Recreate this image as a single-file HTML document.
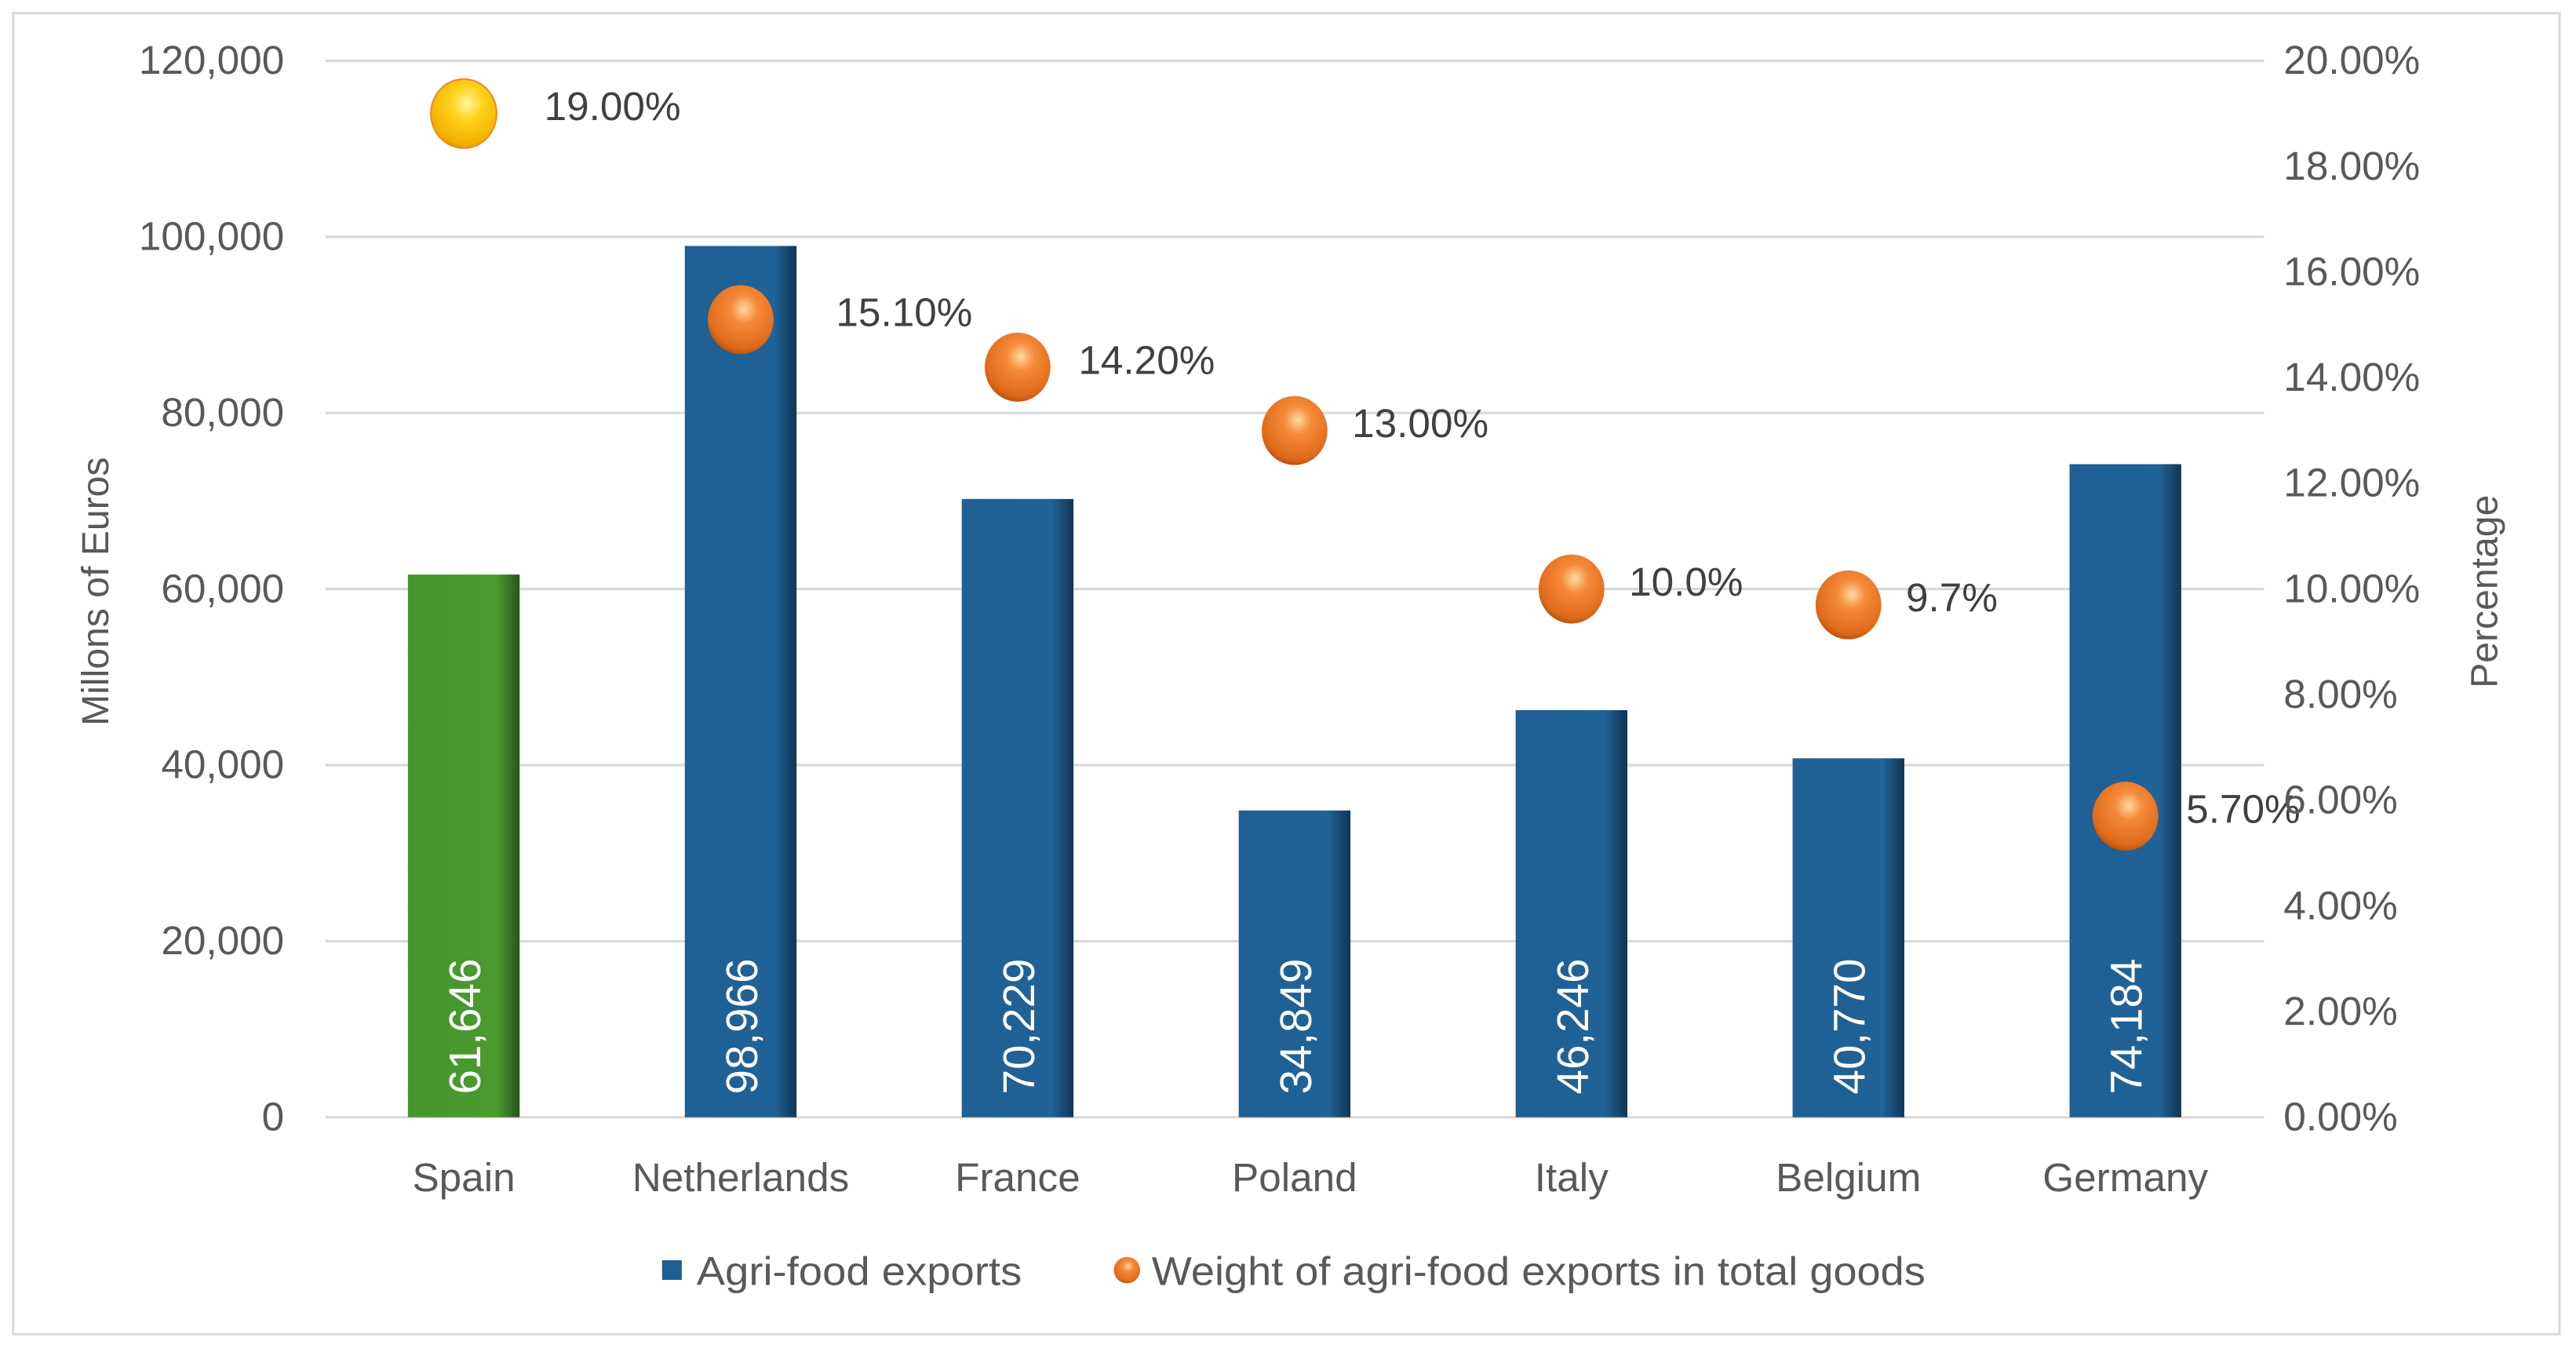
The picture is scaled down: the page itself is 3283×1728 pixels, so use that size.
<!DOCTYPE html>
<html><head><meta charset="utf-8"><style>
html,body{margin:0;padding:0;background:#fff}
svg{display:block;font-family:"Liberation Sans",sans-serif}
</style></head><body>
<svg id="chart" width="3283" height="1728" viewBox="0 0 1568 825.3" preserveAspectRatio="none" xmlns="http://www.w3.org/2000/svg">
<defs>
<linearGradient id="gBlue" x1="0" x2="1" y1="0" y2="0"><stop offset="0" stop-color="#1f5f94"/><stop offset="0.8" stop-color="#216396"/><stop offset="1" stop-color="#0f3556"/></linearGradient>
<linearGradient id="gGreen" x1="0" x2="1" y1="0" y2="0"><stop offset="0" stop-color="#46952c"/><stop offset="0.8" stop-color="#4a9a2e"/><stop offset="1" stop-color="#24561a"/></linearGradient>
<radialGradient id="gOrange" cx="0.55" cy="0.35" r="0.7"><stop offset="0" stop-color="#ffd9a0"/><stop offset="0.3" stop-color="#f58a3a"/><stop offset="0.8" stop-color="#e06a1a"/><stop offset="1" stop-color="#a9480c"/></radialGradient>
<radialGradient id="gYellow" cx="0.55" cy="0.35" r="0.7"><stop offset="0" stop-color="#fff6a0"/><stop offset="0.35" stop-color="#ffd21a"/><stop offset="0.85" stop-color="#f2b000"/><stop offset="1" stop-color="#e07a10"/></radialGradient>
</defs>
<rect x="8" y="8" width="1550" height="804" fill="#fff" stroke="#d9d9d9" stroke-width="1.5"/>
<g id="grid"></g><g id="bars"></g><g id="pts"></g><g id="axes"></g>
<text transform="translate(66,360) rotate(-90)" text-anchor="middle" font-size="23" fill="#595959">Millons of Euros</text>
<text transform="translate(1520,360) rotate(-90)" text-anchor="middle" font-size="23" fill="#595959">Percentage</text>
<g>
<rect x="403" y="767" width="12" height="12" fill="#1f5f94"/>
<text x="424" y="782" font-size="24.5" fill="#595959" textLength="198" lengthAdjust="spacingAndGlyphs">Agri-food exports</text>
<circle cx="686" cy="773" r="8" fill="url(#gOrange)"/>
<text x="701" y="782" font-size="24.5" fill="#595959" textLength="471" lengthAdjust="spacingAndGlyphs">Weight of agri-food exports in total goods</text>
</g>
</svg>
<script>
const categories=["Spain","Netherlands","France","Poland","Italy","Belgium","Germany"];
const exportsVals=[61646,98966,70229,34849,46246,40770,74184];
const exportLabels=["61,646","98,966","70,229","34,849","46,246","40,770","74,184"];
const weightVals=[19.0,15.1,14.2,13.0,10.0,9.7,5.7];
const weightLabels=["19.00%","15.10%","14.20%","13.00%","10.0%","9.7%","5.70%"];
const leftTicks=[0,20000,40000,60000,80000,100000,120000];
const leftTickLabels=["0","20,000","40,000","60,000","80,000","100,000","120,000"];
const rightTicks=[0,2,4,6,8,10,12,14,16,18,20];
const rightTickLabels=["0.00%","2.00%","4.00%","6.00%","8.00%","10.00%","12.00%","14.00%","16.00%","18.00%","20.00%"];
const NS="http://www.w3.org/2000/svg";
const X0=198,X1=1378,Y0=680,Y1=37;
const labelDx=[49,58,37,35,35,35,37];
const yL=v=>Y0-(v/120000)*(Y0-Y1);
const yR=v=>Y0-(v/20)*(Y0-Y1);
const band=(X1-X0)/categories.length;
const xC=i=>X0+band*(i+0.5);
function mk(t,a,p){const e=document.createElementNS(NS,t);for(const k in a)e.setAttribute(k,a[k]);p.appendChild(e);return e;}
const grid=document.getElementById('grid'),bars=document.getElementById('bars'),pts=document.getElementById('pts'),axes=document.getElementById('axes');
leftTicks.forEach((v,i)=>{
 const l=mk('line',{x1:X0,x2:X1,y1:yL(v),y2:yL(v),stroke:'#d9d9d9','stroke-width':1.5},grid);
 
 
 const t=mk('text',{x:173,y:yL(v)+8,'text-anchor':'end','font-size':24.5,fill:'#595959'},axes);
 t.textContent=leftTickLabels[i];
 
 
});
rightTicks.forEach((v,i)=>{
 const t=mk('text',{x:1390,y:yR(v)+8,'font-size':24.5,fill:'#595959'},axes);
 t.textContent=rightTickLabels[i];
 
 
});
const bw=68;
categories.forEach((c,i)=>{
 const y=yL(exportsVals[i]);
 const r=mk('rect',{x:xC(i)-bw/2,y:y,width:bw,height:Y0-y,fill:i===0?'url(#gGreen)':'url(#gBlue)'},bars);
 
 
 const vt=mk('text',{transform:`translate(${xC(i)+10},${Y0-14}) rotate(-90)`,'font-size':27,fill:'#fff'},bars);
 vt.textContent=exportLabels[i];
 
 
 const ct=mk('text',{x:xC(i),y:725,'text-anchor':'middle','font-size':24.5,fill:'#595959'},axes);
 ct.textContent=c;
 
 
 const py=yR(weightVals[i]);
 const m=mk('ellipse',{cx:xC(i),cy:py,rx:20,ry:21,fill:i===0?'url(#gYellow)':'url(#gOrange)',stroke:i===0?'#f08a20':'none','stroke-width':1},pts);
 
 
 const pt=mk('text',{x:xC(i)+labelDx[i],y:py+4,'font-size':24.5,fill:'#404040'},pts);
 pt.textContent=weightLabels[i];
 
 
});
</script>
</body></html>
